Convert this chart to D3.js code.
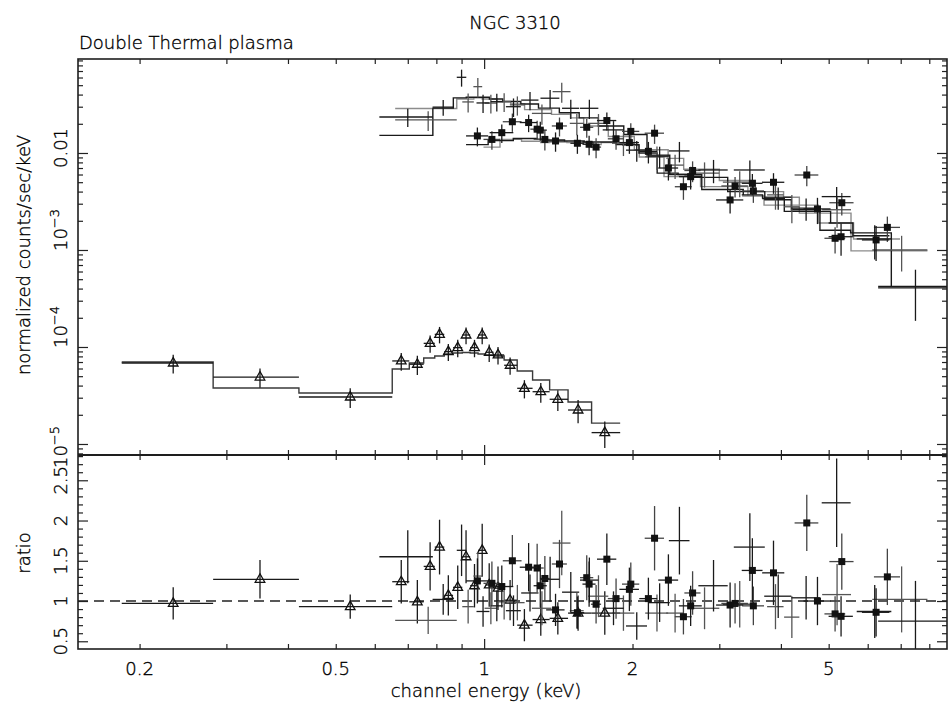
<!DOCTYPE html>
<html>
<head>
<meta charset="utf-8">
<script src="https://cdn.jsdelivr.net/npm/d3@7"></script>
<style>
  body { margin: 0; background: #fff; }
  svg { display: block; }
  text { font-family: "DejaVu Sans ExtraLight", "DejaVu Sans", sans-serif; font-weight: 200;
         fill: #000; stroke: #000; stroke-width: 0.35px; }
</style>
</head>
<body>
<div id="chart"></div>
<script>
// ---- data ----
// ROSAT-like set (open triangles), bin edges in keV
const rosEdges = [0.184, 0.282, 0.421, 0.651, 0.705, 0.754, 0.794, 0.830, 0.865, 0.903, 0.937,
  0.972, 1.007, 1.045, 1.098, 1.167, 1.254, 1.358, 1.480, 1.652, 1.888];
const rosE = [0.234, 0.351, 0.535, 0.679, 0.732, 0.777, 0.812, 0.846, 0.884, 0.919, 0.956, 0.991,
  1.024, 1.067, 1.129, 1.207, 1.303, 1.411, 1.551, 1.757];
const rosY = [6.84e-5, 4.9e-5, 3.05e-5, 7.18e-5, 6.64e-5, 1.09e-4, 1.35e-4, 8.95e-5, 9.84e-5, 1.33e-4,
  9.84e-5, 1.33e-4, 8.82e-5, 8.28e-5, 6.48e-5, 3.75e-5, 3.46e-5, 2.89e-5, 2.24e-5, 1.31e-5];
const rosErr = [1.5e-5, 1.1e-5, 7e-6, 1.5e-5, 1.5e-5, 2.2e-5, 2.6e-5, 1.8e-5, 2e-5, 2.6e-5, 2e-5, 2.6e-5,
  1.8e-5, 1.7e-5, 1.3e-5, 8e-6, 8e-6, 7e-6, 6e-6, 4e-6];
const rosModel = [7.0e-5, 3.78e-5, 3.36e-5, 5.93e-5, 6.84e-5, 7.71e-5, 8.08e-5, 8.47e-5, 8.67e-5, 8.77e-5,
  8.67e-5, 8.47e-5, 8.28e-5, 8.08e-5, 7.35e-5, 5.66e-5, 4.57e-5, 3.61e-5, 2.71e-5, 1.64e-5];
const rosRatio = [0.97, 1.27, 0.93, 1.24, 0.99, 1.43, 1.67, 1.07, 1.17, 1.55, 1.19, 1.63, 1.20, 1.16,
  1.01, 0.70, 0.77, 0.785, 0.85, 0.85];
const rosRatioErr = [0.2, 0.24, 0.15, 0.27, 0.27, 0.3, 0.34, 0.25, 0.27, 0.33, 0.27, 0.33, 0.27, 0.27,
  0.25, 0.2, 0.2, 0.2, 0.22, 0.27];

// first square set
const s0E = [0.969, 1.086, 1.231, 1.30, 1.396, 1.546, 1.633, 1.774, 1.971, 2.154, 2.365, 2.624, 3.155,
  3.501, 3.864, 4.745, 5.298, 6.24];
const s0dE = [0.05, 0.06, 0.05, 0.04, 0.06, 0.05, 0.05, 0.08, 0.09, 0.09, 0.11, 0.14, 0.2, 0.17, 0.2,
  0.3, 0.3, 0.4];
const s0Y = [0.0150, 0.0162, 0.0206, 0.0172, 0.0133, 0.0126, 0.0123, 0.0216, 0.0128, 0.0104, 0.0070,
  0.0057, 0.00328, 0.00487, 0.00499, 0.00265, 0.00137, 0.00127];
const s0Err = [0.0033, 0.0035, 0.0042, 0.0038, 0.003, 0.0028, 0.0028, 0.0045, 0.003, 0.0026, 0.0018,
  0.0015, 0.0009, 0.0012, 0.0012, 0.0008, 0.0005, 0.0005];
const s0Model = [0.0122, 0.0134, 0.0141, 0.0139, 0.0136, 0.0133, 0.0130, 0.0130, 0.0122, 0.0100, 0.0062,
  0.0060, 0.0042, 0.0037, 0.0034, 0.0025, 0.0019, 0.0014];
const s0Ratio = [1.25, 1.18, 1.42, 1.19, 0.89, 0.855, 1.21, 1.52, 1.145, 1.03, 1.26, 0.94, 0.95, 1.38,
  1.35, 1.00, 0.81, 0.86];
const s0RatioErr = [0.28, 0.26, 0.3, 0.27, 0.2, 0.2, 0.28, 0.32, 0.27, 0.26, 0.32, 0.25, 0.28, 0.4, 0.4,
  0.3, 0.25, 0.3];

// second square set
const s1E = [1.037, 1.141, 1.281, 1.328, 1.422, 1.615, 1.687, 1.852, 1.984, 2.217, 2.537, 2.648, 3.229,
  3.517, 4.514, 5.152, 5.316, 6.577];
const s1dE = [0.04, 0.05, 0.04, 0.03, 0.05, 0.05, 0.04, 0.07, 0.08, 0.1, 0.1, 0.1, 0.2, 0.18, 0.25,
  0.25, 0.3, 0.4];
const s1Y = [0.0138, 0.0210, 0.0176, 0.0138, 0.0190, 0.0184, 0.0115, 0.0140, 0.0167, 0.0160, 0.00449,
  0.0066, 0.00457, 0.00406, 0.00593, 0.00132, 0.00307, 0.00171];
const s1Err = [0.003, 0.0045, 0.0039, 0.0032, 0.0042, 0.004, 0.0027, 0.0032, 0.0036, 0.0036, 0.0012,
  0.0016, 0.0011, 0.001, 0.0014, 0.0004, 0.0008, 0.0005];
const s1Model = [0.0115, 0.0138, 0.0132, 0.0128, 0.0130, 0.0128, 0.0122, 0.0128, 0.0120, 0.0091, 0.0057,
  0.0059, 0.0045, 0.0036, 0.0029, 0.0019, 0.0019, 0.0013];
const s1Ratio = [1.22, 1.50, 1.41, 1.28, 1.46, 1.29, 0.96, 1.03, 1.21, 1.78, 0.805, 1.10, 0.97, 0.94,
  1.97, 0.84, 1.49, 1.30];
const s1RatioErr = [0.27, 0.32, 0.3, 0.28, 0.3, 0.28, 0.24, 0.25, 0.27, 0.4, 0.22, 0.27, 0.25, 0.24,
  0.35, 0.22, 0.35, 0.35];

// first cross set
const g2E = [0.70, 0.826, 0.90, 0.995, 1.061, 1.147, 1.239, 1.361, 1.499, 1.635, 1.83, 2.04, 2.27, 2.49,
  2.92, 3.46, 3.95, 4.5, 5.19, 6.2, 7.5];
const g2dE = [0.087, 0.04, 0.02, 0.03, 0.03, 0.04, 0.05, 0.06, 0.06, 0.07, 0.09, 0.1, 0.11, 0.12, 0.2,
  0.25, 0.25, 0.3, 0.35, 0.5, 1.2];
const g2Y = [0.0235, 0.0297, 0.0603, 0.0328, 0.0338, 0.0300, 0.0351, 0.0367, 0.0289, 0.0289, 0.0173,
  0.0107, 0.0093, 0.0105, 0.00668, 0.00668, 0.0035, 0.0027, 0.00355, 0.0013, 0.000406];
const g2Err = [0.005, 0.0055, 0.012, 0.007, 0.007, 0.0065, 0.0075, 0.008, 0.0065, 0.0065, 0.004, 0.0026,
  0.0023, 0.0025, 0.0018, 0.0017, 0.0009, 0.0007, 0.0009, 0.0005, 0.00022];
const g2Model = [0.0152, 0.029, 0.037, 0.0375, 0.036, 0.034, 0.032, 0.029, 0.026, 0.023, 0.019, 0.0155,
  0.0095, 0.0060, 0.0056, 0.0040, 0.0033, 0.0026, 0.0016, 0.0015, 0.00042];
const g2Ratio = [1.55, 1.02, 1.63, 0.87, 0.94, 0.88, 1.10, 1.27, 1.11, 1.26, 0.91, 0.69, 0.98, 1.75,
  1.19, 1.67, 1.06, 1.04, 2.22, 0.87, 0.75];
const g2RatioErr = [0.33, 0.19, 0.32, 0.19, 0.19, 0.19, 0.23, 0.28, 0.25, 0.28, 0.21, 0.17, 0.24, 0.42,
  0.32, 0.42, 0.27, 0.27, 0.55, 0.33, 0.5];

// second cross set
const g3E = [0.77, 0.928, 0.971, 1.032, 1.098, 1.168, 1.31, 1.437, 1.542, 1.706, 1.917, 2.242, 2.44,
  2.8, 3.3, 3.9, 4.21, 5.2, 7.03];
const g3dE = [0.11, 0.025, 0.02, 0.03, 0.035, 0.04, 0.06, 0.06, 0.05, 0.08, 0.1, 0.12, 0.1, 0.2, 0.25,
  0.15, 0.15, 0.35, 0.9];
const g3Y = [0.0219, 0.0336, 0.0483, 0.0327, 0.0338, 0.0313, 0.0256, 0.0429, 0.0202, 0.0202, 0.0126,
  0.00916, 0.0075, 0.0062, 0.0050, 0.0037, 0.00279, 0.0026, 0.0010];
const g3Err = [0.005, 0.0075, 0.011, 0.0072, 0.0074, 0.007, 0.006, 0.01, 0.005, 0.005, 0.0033, 0.0025,
  0.0021, 0.0018, 0.0015, 0.0011, 0.0009, 0.0009, 0.0004];
const g3Model = [0.0288, 0.036, 0.037, 0.036, 0.034, 0.032, 0.028, 0.025, 0.023, 0.019, 0.0148, 0.0108,
  0.0088, 0.0068, 0.0052, 0.0040, 0.0035, 0.0024, 0.00098];
const g3Ratio = [0.76, 0.93, 1.31, 0.91, 0.99, 0.98, 0.91, 1.72, 0.88, 1.06, 0.85, 0.85, 0.85, 0.91,
  0.96, 0.93, 0.80, 1.08, 1.02];
const g3RatioErr = [0.17, 0.21, 0.30, 0.20, 0.22, 0.22, 0.21, 0.40, 0.22, 0.26, 0.22, 0.23, 0.24, 0.26,
  0.29, 0.28, 0.26, 0.38, 0.41];

// tick labels
const xTickLabels = [0.2, 0.5, 1, 2, 5];
const yTopTicks = [1e-5, 1e-4, 1e-3, 0.01];
const ratioTicks = [0.5, 1, 1.5, 2, 2.5];

// ---- layout ----
const W = 948, H = 704;
const left = 78, right = 947, top1 = 59, mid = 455, bottom = 649;
const dark = "#1a1a1a", grey = "#8c8c8c";

const x = d3.scaleLog().domain([0.150, 8.69]).range([left, right]);
const y = d3.scaleLog().domain([7.7e-6, 0.0931]).range([mid, top1]);
const yr = d3.scaleLinear().domain([0.404, 2.814]).range([bottom, mid]);

const svg = d3.select("#chart").append("svg").attr("width", W).attr("height", H);

const defs = svg.append("defs");
defs.append("clipPath").attr("id", "clipTop").append("rect")
  .attr("x", left).attr("y", top1).attr("width", right - left).attr("height", mid - top1);
defs.append("clipPath").attr("id", "clipBot").append("rect")
  .attr("x", left).attr("y", mid).attr("width", right - left).attr("height", bottom - mid);

function build(e, lo, hi, v, ev, m, r, er) {
  return e.map((d, i) => ({ e: d, lo: lo[i], hi: hi[i], v: v[i], ev: ev[i], m: m[i], r: r[i], er: er[i] }));
}
const fromWidth = (e, de, sign) => e.map((d, i) => d + sign * de[i]);

const sets = [
  { data: build(rosE, rosEdges.slice(0, -1), rosEdges.slice(1), rosY, rosErr, rosModel, rosRatio, rosRatioErr),
    marker: "tri", bar: dark, model: "#3a3a3a" },
  { data: build(g3E, fromWidth(g3E, g3dE, -1), fromWidth(g3E, g3dE, 1), g3Y, g3Err, g3Model, g3Ratio, g3RatioErr),
    marker: null, bar: "#555", model: grey },
  { data: build(s1E, fromWidth(s1E, s1dE, -1), fromWidth(s1E, s1dE, 1), s1Y, s1Err, s1Model, s1Ratio, s1RatioErr),
    marker: "sq", bar: "#444", model: grey },
  { data: build(g2E, fromWidth(g2E, g2dE, -1), fromWidth(g2E, g2dE, 1), g2Y, g2Err, g2Model, g2Ratio, g2RatioErr),
    marker: null, bar: dark, model: dark },
  { data: build(s0E, fromWidth(s0E, s0dE, -1), fromWidth(s0E, s0dE, 1), s0Y, s0Err, s0Model, s0Ratio, s0RatioErr),
    marker: "sq", bar: dark, model: dark }
];

// histogram-style model line through the bins of one set
function stepPath(data) {
  const p = d3.path();
  data.forEach((d, i) => {
    const ym = y(d.m);
    if (i === 0) p.moveTo(x(d.lo), ym); else p.lineTo(x(d.lo), ym);
    p.lineTo(x(d.hi), ym);
    if (i < data.length - 1) p.lineTo(x(d.hi), y(data[i + 1].m));
  });
  return p.toString();
}

const topG = svg.append("g").attr("clip-path", "url(#clipTop)");
const botG = svg.append("g").attr("clip-path", "url(#clipBot)");

// model lines
sets.forEach(s => {
  topG.append("path").attr("d", stepPath(s.data))
    .attr("fill", "none").attr("stroke", s.model).attr("stroke-width", 1.4);
});

// ratio = 1 reference
botG.append("line")
  .attr("x1", left).attr("x2", right).attr("y1", yr(1)).attr("y2", yr(1))
  .attr("stroke", "#222").attr("stroke-width", 1.3).attr("stroke-dasharray", "10,6");

const triangle = "M0,-5.5L4.8,3L-4.8,3Z";

function drawPoints(g, s, yScale, val, err, floor) {
  const pts = g.append("g");
  pts.selectAll("line.h").data(s.data).join("line").attr("class", "h")
    .attr("x1", d => x(d.lo)).attr("x2", d => x(d.hi))
    .attr("y1", d => yScale(val(d))).attr("y2", d => yScale(val(d)))
    .attr("stroke", s.bar).attr("stroke-width", 1.3);
  pts.selectAll("line.v").data(s.data).join("line").attr("class", "v")
    .attr("x1", d => x(d.e)).attr("x2", d => x(d.e))
    .attr("y1", d => yScale(Math.max(val(d) - err(d), floor)))
    .attr("y2", d => yScale(val(d) + err(d)))
    .attr("stroke", s.bar).attr("stroke-width", 1.3);
  if (s.marker === "sq") {
    pts.selectAll("rect").data(s.data).join("rect")
      .attr("x", d => x(d.e) - 3.5).attr("y", d => yScale(val(d)) - 3.5)
      .attr("width", 7).attr("height", 7).attr("fill", "#111");
  } else if (s.marker === "tri") {
    pts.selectAll("path").data(s.data).join("path")
      .attr("d", triangle)
      .attr("transform", d => `translate(${x(d.e)},${yScale(val(d))})`)
      .attr("fill", "none").attr("stroke", "#111").attr("stroke-width", 1.3);
  }
}

sets.forEach(s => {
  drawPoints(topG, s, y, d => d.v, d => d.ev, 1e-7);
  drawPoints(botG, s, yr, d => d.r, d => d.er, 0.2);
});

// ---- axes ----
const xMinor = d3.range(0.2, 0.95, 0.1).concat(d3.range(2, 9, 1));
const yMinor = [];
[1e-6, 1e-5, 1e-4, 1e-3, 1e-2].forEach(dec => d3.range(2, 10).forEach(k => {
  const v = k * dec;
  if (v > 7.7e-6 && v < 0.0931) yMinor.push(v);
}));
const rMinor = d3.range(0.5, 2.81, 0.1).filter(v => Math.abs(v * 2 - Math.round(v * 2)) > 0.01);
const rMajor = d3.range(0.5, 2.51, 0.5);

function ticks(axis, vals, size, transform) {
  svg.append("g").attr("transform", transform)
    .call(axis.tickValues(vals).tickSize(size).tickFormat(""))
    .call(g => g.select(".domain").remove())
    .call(g => g.selectAll("line").attr("stroke", "#222").attr("stroke-width", 1.2));
}

// horizontal axes: top of upper panel, both sides of the separator, bottom
ticks(d3.axisTop(x), xMinor, -5, `translate(0,${top1})`);
ticks(d3.axisTop(x), [1], -10, `translate(0,${top1})`);
ticks(d3.axisBottom(x), xMinor, -5, `translate(0,${mid})`);
ticks(d3.axisBottom(x), [1], -10, `translate(0,${mid})`);
ticks(d3.axisTop(x), xMinor, -5, `translate(0,${mid})`);
ticks(d3.axisTop(x), [1], -10, `translate(0,${mid})`);
ticks(d3.axisBottom(x), xMinor, -5, `translate(0,${bottom})`);
ticks(d3.axisBottom(x), [1], -10, `translate(0,${bottom})`);

// vertical axes
ticks(d3.axisLeft(y), yMinor, -5, `translate(${left},0)`);
ticks(d3.axisLeft(y), yTopTicks, -10, `translate(${left},0)`);
ticks(d3.axisRight(y), yMinor, -5, `translate(${right},0)`);
ticks(d3.axisRight(y), yTopTicks, -10, `translate(${right},0)`);
ticks(d3.axisLeft(yr), rMinor, -5, `translate(${left},0)`);
ticks(d3.axisLeft(yr), rMajor, -10, `translate(${left},0)`);
ticks(d3.axisRight(yr), rMinor, -5, `translate(${right},0)`);
ticks(d3.axisRight(yr), rMajor, -10, `translate(${right},0)`);

// frames
svg.append("rect").attr("x", left).attr("y", top1).attr("width", right - left).attr("height", bottom - top1)
  .attr("fill", "none").attr("stroke", "#1e1e1e").attr("stroke-width", 1.6);
svg.append("line").attr("x1", left).attr("x2", right).attr("y1", mid).attr("y2", mid)
  .attr("stroke", "#1e1e1e").attr("stroke-width", 1.8);

// ---- labels ----
const fs = 18;
svg.append("text").attr("x", 515).attr("y", 29).attr("text-anchor", "middle")
  .attr("font-size", fs).text("NGC 3310");
svg.append("text").attr("x", 79).attr("y", 49).attr("font-size", fs).text("Double Thermal plasma");

svg.append("g").selectAll("text").data(xTickLabels).join("text")
  .attr("x", d => x(d)).attr("y", 675).attr("text-anchor", "middle")
  .attr("font-size", fs).text(d => d);

svg.append("text").attr("x", 486).attr("y", 697).attr("text-anchor", "middle")
  .attr("font-size", fs).text("channel energy (keV)");

// rotated labels on the left
const yLabelShift = [-3, 20, 20, 5]; // move up the page, per top-panel tick
const yl = svg.append("g").selectAll("text").data(yTopTicks).join("text")
  .attr("transform", (d, i) => `translate(67,${y(d) - yLabelShift[i]}) rotate(-90)`)
  .attr("text-anchor", "middle").attr("font-size", fs);
yl.each(function (d) {
  const t = d3.select(this);
  if (d === 0.01) { t.text("0.01"); return; }
  t.append("tspan").text("10");
  t.append("tspan").attr("font-size", 13).attr("dy", -8).text("\u2212" + Math.round(-Math.log10(d)));
});

svg.append("g").selectAll("text").data(ratioTicks).join("text")
  .attr("transform", d => `translate(67,${yr(d)}) rotate(-90)`)
  .attr("text-anchor", "middle").attr("font-size", fs).text(d => d);

svg.append("text").attr("transform", "translate(30,255) rotate(-90)")
  .attr("text-anchor", "middle").attr("font-size", fs).text("normalized counts/sec/keV");
svg.append("text").attr("transform", "translate(30,553) rotate(-90)")
  .attr("text-anchor", "middle").attr("font-size", fs).text("ratio");
</script>
</body>
</html>
